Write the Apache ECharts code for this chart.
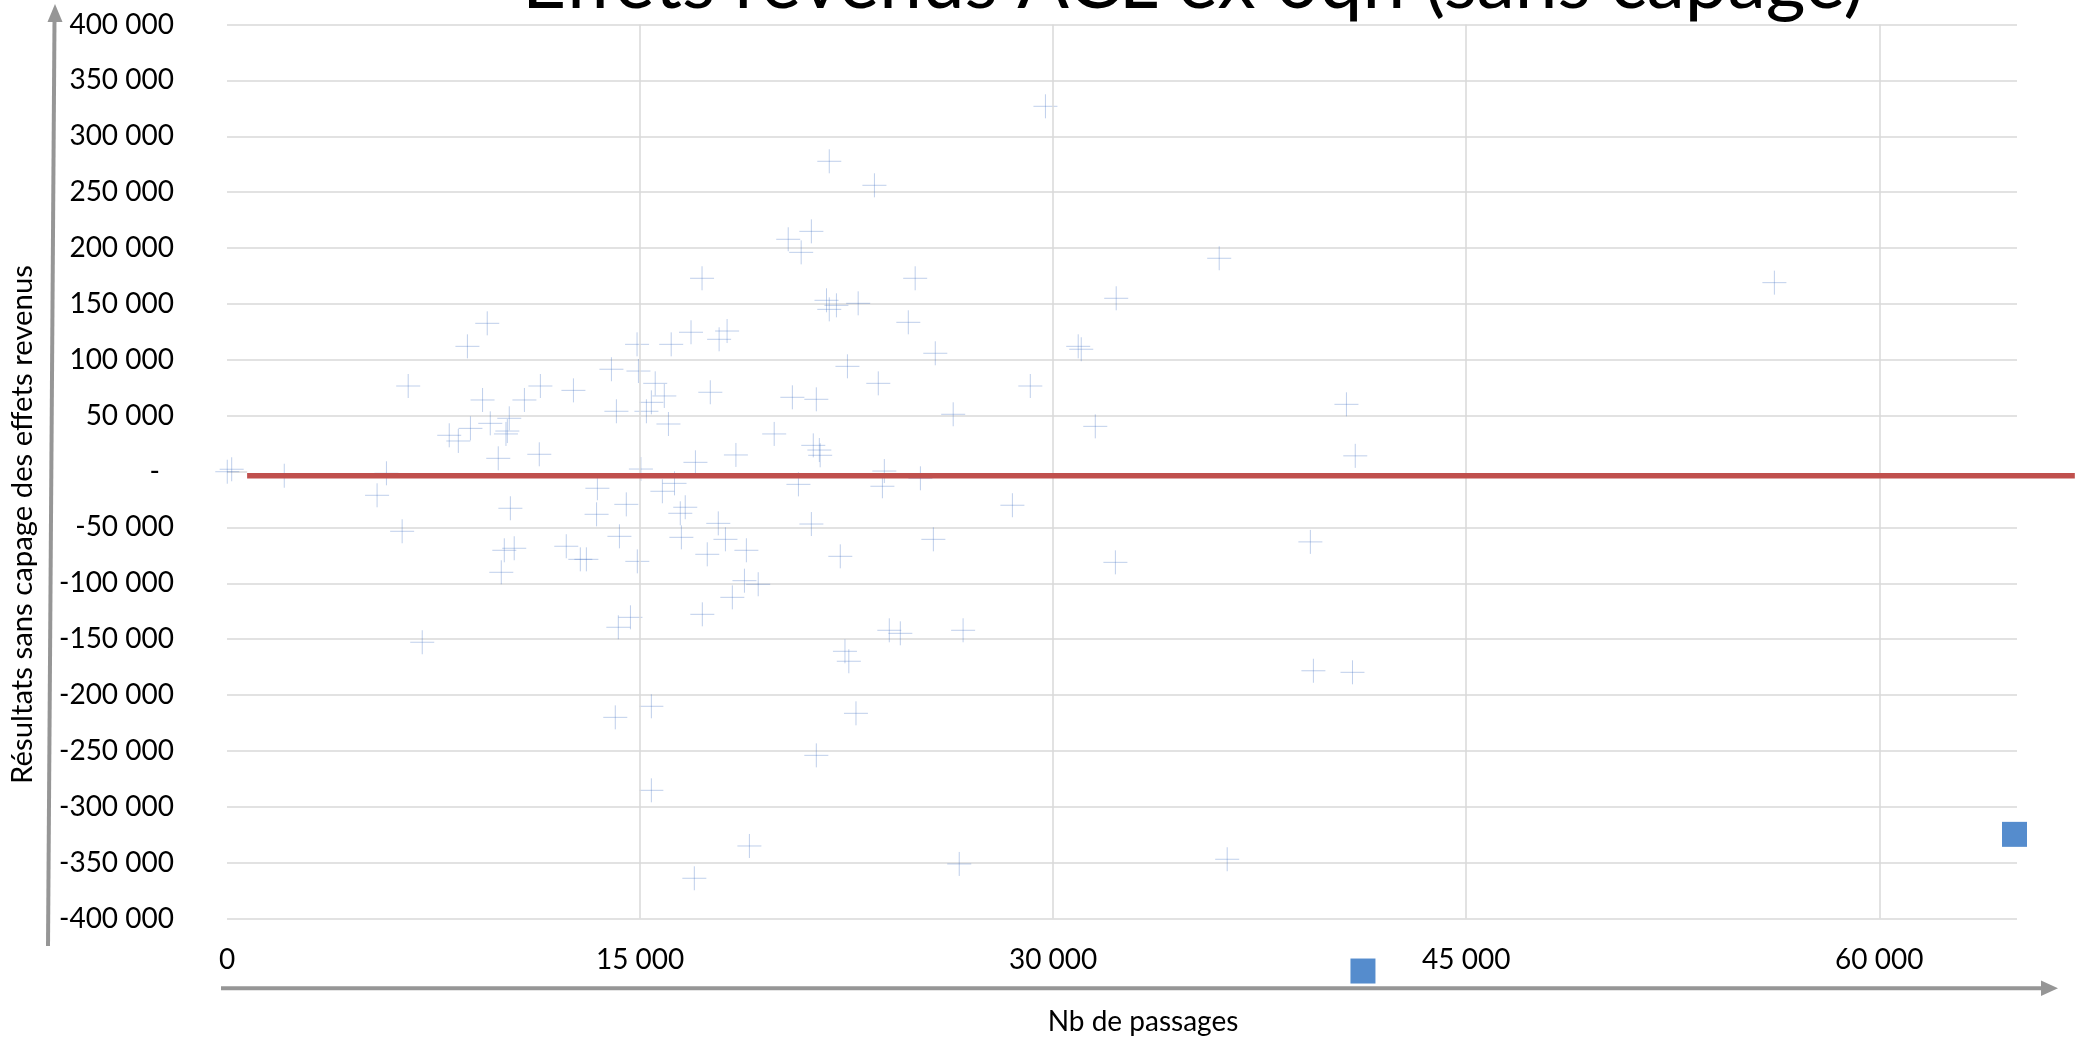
<!DOCTYPE html>
<html>
<head>
<meta charset="utf-8">
<title>Effets revenus ACL ex 0qh (sans capage)</title>
<script src="https://cdn.jsdelivr.net/npm/echarts@6/dist/echarts.min.js"></script>
<style>
    html, body { margin: 0; padding: 0; background: #fff; }
    #chart { width: 2075px; height: 1038px; }
</style>
</head>
<body>
<div id="chart"></div>
<script>
// points "+" : nb de passages / résultats sans capage
const passages = [
    17250, 9450, 8730, 14890, 16130, 16850, 17870, 18160, 13960, 14940,
    6580, 11380, 12580, 15550, 15880, 17550, 9280, 10800, 14140, 15230,
    15410, 16030, 9560, 10250, 8840, 8070, 8400, 10180, 10130, 9850,
    11340, 17010, 18480, 15030, 10, 170, 2080, 5790, 5450, 13450,
    14500, 13420, 10290, 15810, 16250, 16640, 16460,
    6360, 10070, 10430, 9960, 12320, 12830, 13050, 14250, 14900, 16500,
    17840, 18100, 17440, 14650, 14210, 17260, 18350, 7090, 15410, 14100,
    15410, 16970,
    29720, 21870, 23510, 20380, 21220, 20850, 36030, 24990, 32290, 21770,
    22130, 21870, 22920, 24740, 30910, 31020, 25720, 22530, 23650, 29170,
    20530, 21400, 26370, 31530, 19870, 21290, 21510, 21540, 23870, 25180,
    20750, 23800, 28520,
    21220, 25650, 18860, 22270, 32260, 18790, 19290, 24050, 24450, 26730,
    22440, 22580, 22840, 21400, 18970, 26590, 36320,
    56190, 40650, 40970, 39340, 39450, 40870
];
const resultats = [
    172900, 132600, 112000, 113800, 113800, 124600, 118300, 125700, 91500, 89900,
    76500, 76500, 72600, 78900, 67600, 70900, 64000, 64000, 53900, 53900,
    61900, 42500, 43100, 47600, 38600, 32400, 27300, 36200, 33600, 11800,
    15400, 8200, 14800, 2200, -200, 2000, -3800, -1600, -21300, -15000,
    -29400, -38300, -32900, -17700, -10600, -32000, -37400,
    -53500, -70500, -68700, -90200, -66900, -78600, -78600, -58000, -80400, -58900,
    -46400, -60700, -74100, -130500, -139400, -127800, -112600, -152800, -210100, -220000,
    -285300, -364000,
    326800, 277600, 256100, 207800, 214900, 196100, 190800, 172900, 155000, 153200,
    148700, 145100, 150500, 133500, 112000, 109400, 105800, 94100, 78900, 76500,
    66400, 64600, 51200, 40400, 33600, 23400, 19200, 14500, 400, -6100,
    -11500, -13200, -30200,
    -47000, -60700, -70500, -75900, -81300, -97700, -100900, -142100, -144800, -142100,
    -160900, -169800, -216400, -254000, -335100, -351200, -347000,
    169000, 60100, 14000, -63000, -178300, -179700
];

// deux points carrés
const passagesCarres = [64910, 41250];
const resultatsCarres = [-324700, -447000];

// trait rouge horizontal (dépasse à droite du graphique)
const traitX = [730, 67100];
const traitY = [-3800, -3800];

// quadrillage vertical
const xGrille = [15000, 30000, 45000, 60000];

const police = 'Lato, "Open Sans", sans-serif';
const gris = '#969696';

const enMilliers = (v) => String(v).replace(/\B(?=(\d{3})+(?!\d))/g, ' ');

const myChart = echarts.init(document.getElementById('chart'));

const option = {
    animation: false,
    backgroundColor: '#fff',
    grid: { left: 227, right: 58, top: 24.5, bottom: 119.5 },
    xAxis: {
        type: 'value',
        min: 0,
        max: 65000,
        interval: 15000,
        axisLine: { show: false },
        axisTick: { show: false },
        splitLine: { show: false },
        axisLabel: {
            showMaxLabel: false,
            margin: 27,
            color: '#000',
            fontSize: 28,
            fontFamily: police,
            formatter: (v) => enMilliers(v)
        }
    },
    yAxis: {
        type: 'value',
        min: -400000,
        max: 400000,
        interval: 50000,
        axisLine: { show: false },
        axisTick: { show: false },
        splitLine: { lineStyle: { color: '#d9d9d9', width: 1.5 } },
        axisLabel: {
            margin: 53,
            color: '#000',
            fontSize: 28,
            fontFamily: police,
            formatter: (v) => v === 0 ? '{d|-}' : enMilliers(v),
            rich: {
                d: { padding: [0, 14, 0, 0], fontSize: 28, fontFamily: police, color: '#000' }
            }
        }
    },
    series: [
        {
            // quadrillage vertical seulement aux graduations
            type: 'scatter',
            data: [],
            z: 1,
            silent: true,
            markLine: {
                silent: true,
                symbol: 'none',
                label: { show: false },
                lineStyle: { color: '#d9d9d9', width: 1.5, type: 'solid' },
                data: xGrille.map((v) => ({ xAxis: v }))
            }
        },
        {
            // liseré blanc autour du trait rouge
            type: 'line',
            data: traitX.map((x, i) => [x, traitY[i]]),
            showSymbol: false,
            silent: true,
            z: 2,
            lineStyle: { color: '#fff', width: 11 }
        },
        {
            name: 'Résultats',
            type: 'scatter',
            data: passages.map((x, i) => [x, resultats[i]]),
            symbol: 'path://M12,0 L12,24 M0,12 L24,12',
            symbolSize: 24,
            z: 3,
            itemStyle: {
                color: 'transparent',
                borderColor: 'rgba(68,114,196,0.34)',
                borderWidth: 1,
                opacity: 1
            }
        },
        {
            type: 'scatter',
            data: passagesCarres.map((x, i) => [x, resultatsCarres[i]]),
            symbol: 'rect',
            symbolSize: 25,
            clip: false,
            z: 3,
            itemStyle: { color: '#558ccd', opacity: 1 }
        }
    ],
    graphic: [
        {
            id: 'titre', type: 'text', x: 1193, y: -17, silent: true,
            style: {
                text: 'Effets revenus ACL ex 0qh (sans capage)',
                font: '76.5px ' + police, fill: '#000',
                align: 'center', verticalAlign: 'middle'
            }
        },
        {
            id: 'titreY', type: 'text', x: 23, y: 524.5, rotation: Math.PI / 2, silent: true,
            style: {
                text: 'Résultats sans capage des effets revenus',
                font: '29.3px ' + police, fill: '#000',
                align: 'center', verticalAlign: 'middle'
            }
        },
        {
            id: 'titreX', type: 'text', x: 1143, y: 1022, silent: true,
            style: {
                text: 'Nb de passages',
                font: '28px ' + police, fill: '#000',
                align: 'center', verticalAlign: 'middle'
            }
        },
        // flèche verticale
        {
            id: 'flecheY', type: 'line', silent: true,
            shape: { x1: 48, y1: 946, x2: 54.5, y2: 20 },
            style: { stroke: gris, lineWidth: 4 }
        },
        {
            id: 'pointeY', type: 'polygon', silent: true,
            shape: { points: [[55, 4], [47.5, 22], [62.5, 22]] },
            style: { fill: gris }
        },
        // flèche horizontale
        {
            id: 'flecheX', type: 'line', silent: true,
            shape: { x1: 221, y1: 988.3, x2: 2043, y2: 988.3 },
            style: { stroke: gris, lineWidth: 4 }
        },
        {
            id: 'pointeX', type: 'polygon', silent: true,
            shape: { points: [[2058, 988.3], [2041, 980.5], [2041, 996]] },
            style: { fill: gris }
        }
    ]
};

myChart.setOption(option);

// trait rouge placé avec l'échelle du graphique, sans découpe au bord de la grille
const debut = myChart.convertToPixel({ gridIndex: 0 }, [traitX[0], traitY[0]]);
const fin = myChart.convertToPixel({ gridIndex: 0 }, [traitX[1], traitY[1]]);
myChart.setOption({
    graphic: [{
        id: 'traitRouge', type: 'line', silent: true, z: 10,
        shape: { x1: debut[0], y1: debut[1], x2: fin[0], y2: fin[1] },
        style: { stroke: '#c0504d', lineWidth: 5.5 }
    }]
});

window.addEventListener('resize', () => {
    myChart.resize();
});
</script>
</body>
</html>
